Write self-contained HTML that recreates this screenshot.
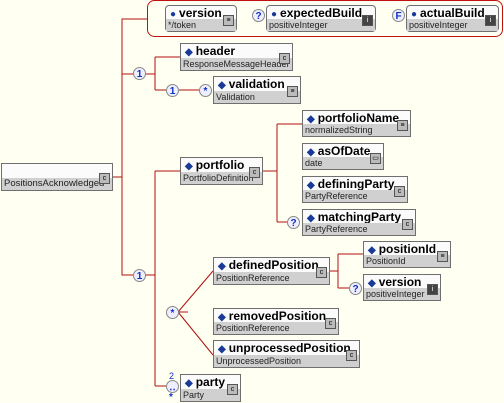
<!DOCTYPE html>
<html><head><meta charset="utf-8"><style>
body{margin:0;width:504px;height:401px;background:#fffff2;position:relative;overflow:hidden;font-family:"Liberation Sans",sans-serif}
svg{position:absolute;left:0;top:0}
.b{position:absolute;border:1px solid #6f6f6f;background:#fbfbfb;box-sizing:border-box}
.b .t{height:14px;font-weight:bold;font-size:12px;line-height:14px;padding-left:4px;white-space:nowrap;color:#000}
.b .t i{font-style:normal;color:#1a3a9a;font-size:10px;margin-right:3px}
.b .s{position:absolute;left:0;right:0;bottom:0;height:12px;background:#d0d0d0;font-size:9px;line-height:12px;padding-left:2px;white-space:nowrap;color:#222;overflow:hidden}
.r{border-radius:4px}
.ic{position:absolute;right:2px;top:9px;width:9px;height:9px;border:1px solid #555;background:#bbb;font-size:7px;line-height:9px;text-align:center;color:#000;z-index:2}
.ic.d{background:#444;color:#fff}
.c{position:absolute;width:13px;height:13px;border-radius:50%;border:1px solid #888;background:#eef;color:#1030c0;font-weight:bold;font-size:10px;line-height:13px;text-align:center;box-sizing:border-box}
</style></head><body>
<svg width="504" height="401" fill="none" stroke="#b01010" stroke-width="1">
<rect x="147.5" y="0.5" width="355" height="36" rx="7" stroke="#c01010"/>
<path d="M112 177H122M122 177V19H147M118 177H119M122 74H133M122 177V275H133"/>
<path d="M145 74H155M155 57V90M155 57H180M155 90H166M178 90H199"/>
<path d="M145 275H155M155 171V386M155 171H180M155 386H166"/>
<path d="M178 312L188 312M178 312L213 271M178 312L213 355"/>
<path d="M262 171H277M277 124V222M277 124H302M277 222H287"/>
<path d="M330 271H338M338 254V288M338 254H363M338 288H349"/>
</svg>

<div class="b" style="left:1px;top:163px;width:112px;height:28px"><div class="s" style="font-size:9.5px">PositionsAcknowledged</div><div class="ic" style="top:9px">c</div></div>

<div class="b r" style="left:165px;top:5px;width:72px;height:27px"><div class="t"><i>●</i>version</div><div class="s">*/token</div><div class="ic">≡</div></div>
<div class="c" style="left:252px;top:9px">?</div>
<div class="b r" style="left:266px;top:5px;width:110px;height:27px"><div class="t"><i>●</i>expectedBuild</div><div class="s">positiveInteger</div><div class="ic d">i</div></div>
<div class="c" style="left:392px;top:9px">F</div>
<div class="b r" style="left:406px;top:5px;width:93px;height:27px"><div class="t"><i>●</i>actualBuild</div><div class="s">positiveInteger</div><div class="ic d">i</div></div>

<div class="c" style="left:133px;top:67px">1</div>
<div class="b" style="left:180px;top:43px;width:113px;height:28px"><div class="t"><i>◆</i>header</div><div class="s">ResponseMessageHeader</div><div class="ic">c</div></div>
<div class="c" style="left:166px;top:84px">1</div>
<div class="c" style="left:199px;top:84px">*</div>
<div class="b" style="left:213px;top:76px;width:88px;height:28px"><div class="t"><i>◆</i>validation</div><div class="s">Validation</div><div class="ic">≡</div></div>

<div class="c" style="left:133px;top:269px">1</div>
<div class="b" style="left:180px;top:157px;width:83px;height:28px"><div class="t"><i>◆</i>portfolio</div><div class="s">PortfolioDefinition</div><div class="ic">c</div></div>
<div class="b" style="left:302px;top:110px;width:109px;height:27px"><div class="t"><i>◆</i>portfolioName</div><div class="s">normalizedString</div><div class="ic">≡</div></div>
<div class="b" style="left:302px;top:143px;width:82px;height:27px"><div class="t"><i>◆</i>asOfDate</div><div class="s">date</div><div class="ic">▭</div></div>
<div class="b" style="left:302px;top:176px;width:106px;height:27px"><div class="t"><i>◆</i>definingParty</div><div class="s">PartyReference</div><div class="ic">c</div></div>
<div class="c" style="left:287px;top:216px">?</div>
<div class="b" style="left:302px;top:209px;width:114px;height:27px"><div class="t"><i>◆</i>matchingParty</div><div class="s">PartyReference</div><div class="ic">c</div></div>

<div class="c" style="left:166px;top:306px">*</div>
<div class="b" style="left:213px;top:257px;width:117px;height:28px"><div class="t"><i>◆</i>definedPosition</div><div class="s">PositionReference</div><div class="ic">c</div></div>
<div class="b" style="left:363px;top:241px;width:88px;height:27px"><div class="t"><i>◆</i>positionId</div><div class="s">PositionId</div><div class="ic">≡</div></div>
<div class="c" style="left:349px;top:282px">?</div>
<div class="b" style="left:363px;top:274px;width:78px;height:27px"><div class="t"><i>◆</i>version</div><div class="s">positiveInteger</div><div class="ic d">i</div></div>
<div class="b" style="left:213px;top:308px;width:126px;height:27px"><div class="t"><i>◆</i>removedPosition</div><div class="s">PositionReference</div><div class="ic">c</div></div>
<div class="b" style="left:213px;top:340px;width:147px;height:28px"><div class="t"><i>◆</i>unprocessedPosition</div><div class="s">UnprocessedPosition</div><div class="ic">c</div></div>

<div style="position:absolute;left:169px;top:371px;font-size:9px;color:#1030c0">2</div>
<div class="c" style="left:166px;top:380px">‥</div>
<div style="position:absolute;left:169px;top:392px;font-size:10px;color:#1030c0;font-weight:bold">*</div>
<div class="b" style="left:180px;top:374px;width:61px;height:28px"><div class="t"><i>◆</i>party</div><div class="s">Party</div><div class="ic">c</div></div>
</body></html>
